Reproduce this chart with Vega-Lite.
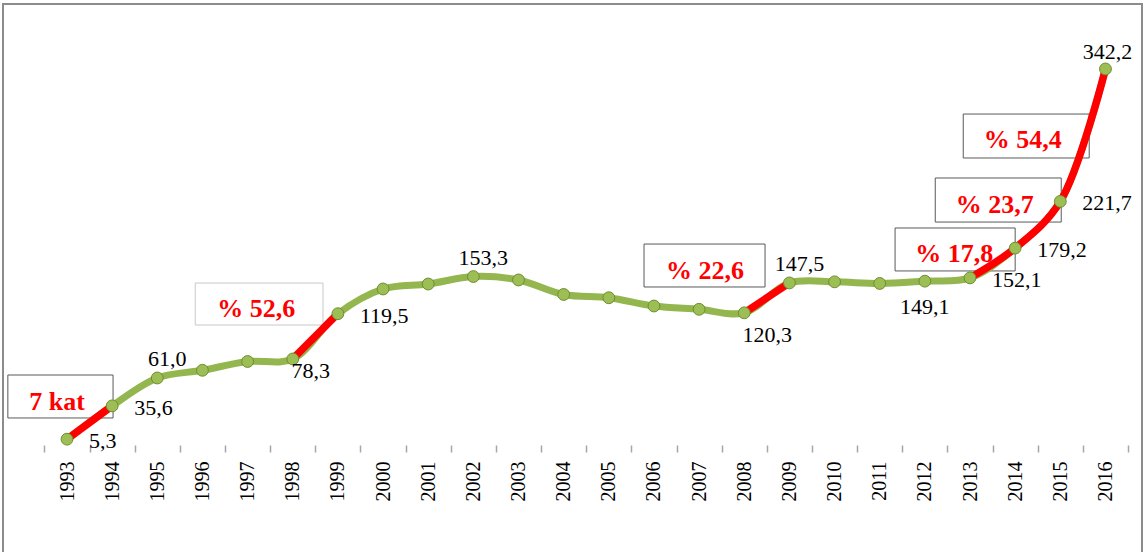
{
  "$schema": "https://vega.github.io/schema/vega-lite/v6.json",
  "width": 1139,
  "height": 568,
  "autosize": {"type": "none"},
  "padding": {"left": 3, "top": 4, "right": 3, "bottom": 0},
  "background": "white",
  "config": {"view": {"stroke": "#8c8c8c", "strokeWidth": 2}, "axis": {"grid": false}},
  "datasets": {
    "series": [
      {"year": 1993, "value": 5.3, "label": "5,3"},
      {"year": 1994, "value": 35.6, "label": "35,6"},
      {"year": 1995, "value": 61.0, "label": "61,0"},
      {"year": 1996, "value": 68},
      {"year": 1997, "value": 76},
      {"year": 1998, "value": 78.3, "label": "78,3"},
      {"year": 1999, "value": 119.5, "label": "119,5"},
      {"year": 2000, "value": 142},
      {"year": 2001, "value": 146.5},
      {"year": 2002, "value": 153.3, "label": "153,3"},
      {"year": 2003, "value": 150.2},
      {"year": 2004, "value": 137},
      {"year": 2005, "value": 134},
      {"year": 2006, "value": 126.5},
      {"year": 2007, "value": 123.5},
      {"year": 2008, "value": 120.3, "label": "120,3"},
      {"year": 2009, "value": 147.5, "label": "147,5"},
      {"year": 2010, "value": 148.5},
      {"year": 2011, "value": 147},
      {"year": 2012, "value": 149.1, "label": "149,1"},
      {"year": 2013, "value": 152.1, "label": "152,1"},
      {"year": 2014, "value": 179.2, "label": "179,2"},
      {"year": 2015, "value": 221.7, "label": "221,7"},
      {"year": 2016, "value": 342.2, "label": "342,2"}
    ],
    "notes": [
      {"note": "7 kat", "x1": 1991.69, "x2": 1994.02, "y1": 24.6, "y2": 63.7, "tx": 1992.78, "ty": 31.9},
      {"note": "% 52,6", "x1": 1995.84, "x2": 1998.67, "y1": 109.2, "y2": 147.4, "tx": 1997.19, "ty": 116.8},
      {"note": "% 22,6", "x1": 2005.78, "x2": 2008.46, "y1": 143.8, "y2": 182.9, "tx": 2007.13, "ty": 150.8},
      {"note": "% 17,8", "x1": 2011.34, "x2": 2014.0, "y1": 158.4, "y2": 197.5, "tx": 2012.65, "ty": 166.8},
      {"note": "% 23,7", "x1": 2012.23, "x2": 2015.02, "y1": 202.9, "y2": 243.0, "tx": 2013.55, "ty": 210.9},
      {"note": "% 54,4", "x1": 2012.85, "x2": 2015.64, "y1": 261.2, "y2": 301.2, "tx": 2014.17, "ty": 270.0}
    ]
  },
  "data": {"name": "series"},
  "encoding": {
    "x": {"field": "year", "type": "quantitative", "scale": {"domain": [1991.5825, 2016.809], "nice": false, "zero": false}, "axis": null},
    "y": {"field": "value", "type": "quantitative", "scale": {"domain": [-115.58, 401.35], "nice": false, "zero": false}, "axis": null}
  },
  "layer": [
    {
      "data": {"name": "notes"},
      "mark": {"type": "rect", "fill": "transparent", "strokeWidth": 1},
      "encoding": {
        "x": {"field": "x1", "type": "quantitative", "scale": {"domain": [1991.5825, 2016.809], "nice": false, "zero": false}, "axis": null},
        "x2": {"field": "x2"},
        "y": {"field": "y1", "type": "quantitative", "scale": {"domain": [-115.58, 401.35], "nice": false, "zero": false}, "axis": null},
        "y2": {"field": "y2"},
        "stroke": {"condition": {"test": "datum.note === '% 52,6'", "value": "#c8c8c8"}, "value": "#595959"}
      }
    },
    {
      "data": {"values": [{}]},
      "mark": {"type": "rule", "color": "#a6a6a6", "strokeWidth": 2},
      "encoding": {
        "x": {"datum": 1992.5, "type": "quantitative", "axis": null},
        "x2": {"datum": 2016.5},
        "y": {"datum": 0, "type": "quantitative", "axis": null}
      }
    },
    {
      "mark": {"type": "line", "color": "#94b64e", "strokeWidth": 7, "interpolate": "catmull-rom"},
      "encoding": {
        "x": {
          "field": "year", "type": "quantitative",
          "scale": {"domain": [1991.5825, 2016.809], "nice": false, "zero": false},
          "axis": {
            "orient": "bottom", "offset": -127, "title": null, "domain": false,
            "values": [1993,1994,1995,1996,1997,1998,1999,2000,2001,2002,2003,2004,2005,2006,2007,2008,2009,2010,2011,2012,2013,2014,2015,2016],
            "format": "d", "ticks": true, "tickOpacity": 0, "tickSize": 7, "labelPadding": 9,
            "labelAngle": -90, "labelFont": "Liberation Serif", "labelFontSize": 20, "labelColor": "#000000",
            "labelOverlap": false, "labelFlush": false
          }
        }
      }
    },
    {
      "transform": [{"filter": "datum.year >= 1993 && datum.year <= 1994"}],
      "mark": {"type": "line", "color": "#ff0000", "strokeWidth": 7.5, "interpolate": "catmull-rom"}
    },
    {
      "transform": [{"filter": "datum.year >= 1998 && datum.year <= 1999"}],
      "mark": {"type": "line", "color": "#ff0000", "strokeWidth": 7.5, "interpolate": "catmull-rom"}
    },
    {
      "transform": [{"filter": "datum.year >= 2008 && datum.year <= 2009"}],
      "mark": {"type": "line", "color": "#ff0000", "strokeWidth": 7.5, "interpolate": "catmull-rom"}
    },
    {
      "transform": [{"filter": "datum.year >= 2013 && datum.year <= 2016"}],
      "mark": {"type": "line", "color": "#ff0000", "strokeWidth": 7.5, "interpolate": "catmull-rom"}
    },
    {
      "mark": {"type": "circle", "size": 140, "fill": "#9dbd55", "stroke": "#6f8e30", "strokeWidth": 1, "opacity": 1},
      "encoding": {
        "x": {
          "field": "year", "type": "quantitative",
          "scale": {"domain": [1991.5825, 2016.809], "nice": false, "zero": false},
          "axis": {
            "orient": "bottom", "offset": -127, "title": null, "domain": false, "labels": false,
            "values": [1992.5,1993.5,1994.5,1995.5,1996.5,1997.5,1998.5,1999.5,2000.5,2001.5,2002.5,2003.5,2004.5,2005.5,2006.5,2007.5,2008.5,2009.5,2010.5,2011.5,2012.5,2013.5,2014.5,2015.5,2016.5],
            "ticks": true, "tickSize": 7, "tickColor": "#a6a6a6", "tickWidth": 1.5
          }
        }
      }
    },
    {
      "transform": [{"filter": {"field": "year", "oneOf": [1993, 1994, 1999, 2013, 2014, 2015]}}],
      "mark": {"type": "text", "align": "left", "baseline": "alphabetic", "dx": 22, "dy": 9, "font": "Liberation Serif", "fontSize": 22, "color": "#000000"},
      "encoding": {"text": {"field": "label"}}
    },
    {
      "transform": [{"filter": {"field": "year", "oneOf": [1995, 2002, 2009]}}],
      "mark": {"type": "text", "align": "center", "baseline": "alphabetic", "dx": 10, "dy": -12, "font": "Liberation Serif", "fontSize": 22, "color": "#000000"},
      "encoding": {"text": {"field": "label"}}
    },
    {
      "transform": [{"filter": {"field": "year", "oneOf": [2016]}}],
      "mark": {"type": "text", "align": "center", "baseline": "alphabetic", "dx": 2, "dy": -10, "font": "Liberation Serif", "fontSize": 22, "color": "#000000"},
      "encoding": {"text": {"field": "label"}}
    },
    {
      "transform": [{"filter": {"field": "year", "oneOf": [1998]}}],
      "mark": {"type": "text", "align": "center", "baseline": "alphabetic", "dx": 18, "dy": 19, "font": "Liberation Serif", "fontSize": 22, "color": "#000000"},
      "encoding": {"text": {"field": "label"}}
    },
    {
      "transform": [{"filter": {"field": "year", "oneOf": [2008]}}],
      "mark": {"type": "text", "align": "center", "baseline": "alphabetic", "dx": 23, "dy": 29, "font": "Liberation Serif", "fontSize": 22, "color": "#000000"},
      "encoding": {"text": {"field": "label"}}
    },
    {
      "transform": [{"filter": {"field": "year", "oneOf": [2012]}}],
      "mark": {"type": "text", "align": "center", "baseline": "alphabetic", "dx": 0, "dy": 33, "font": "Liberation Serif", "fontSize": 22, "color": "#000000"},
      "encoding": {"text": {"field": "label"}}
    },
    {
      "data": {"name": "notes"},
      "mark": {"type": "text", "align": "center", "baseline": "alphabetic", "font": "Liberation Serif", "fontWeight": "bold", "fontSize": 26, "color": "#ff0000"},
      "encoding": {
        "x": {"field": "tx", "type": "quantitative", "scale": {"domain": [1991.5825, 2016.809], "nice": false, "zero": false}, "axis": null},
        "y": {"field": "ty", "type": "quantitative", "scale": {"domain": [-115.58, 401.35], "nice": false, "zero": false}, "axis": null},
        "text": {"field": "note"}
      }
    }
  ],
  "resolve": {"axis": {"x": "independent"}}
}
